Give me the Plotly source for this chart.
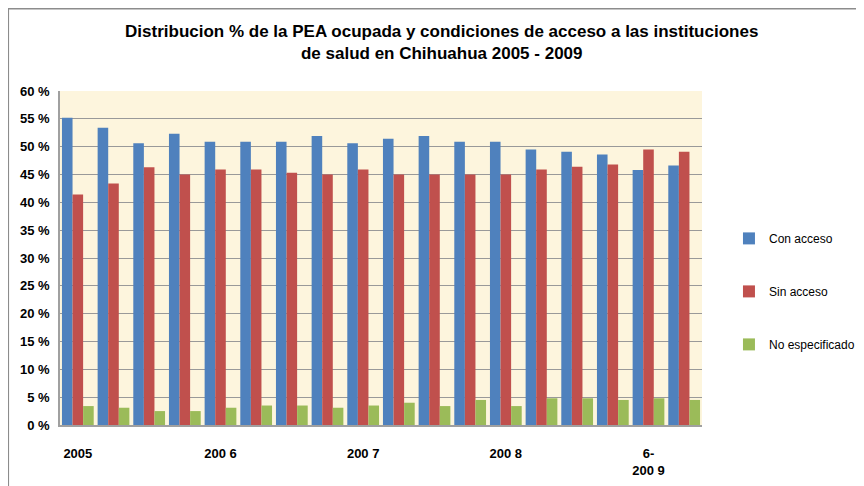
import plotly.graph_objects as go

periods = [
    "2005-1", "2005-2", "2005-3", "2005-4",
    "2006-1", "2006-2", "2006-3", "2006-4",
    "2007-1", "2007-2", "2007-3", "2007-4",
    "2008-1", "2008-2", "2008-3", "2008-4",
    "2009-1", "2009-2",
]
tick_periods = ["2005-1", "2006-1", "2007-1", "2008-1", "2009-1"]
tick_labels = ["2005", "200 6", "200 7", "200 8", "6-<br>200 9"]

con_acceso = [55.2, 53.4, 50.6, 52.3, 50.9, 50.9, 50.9, 51.9, 50.6, 51.4,
              51.9, 50.9, 50.9, 49.5, 49.1, 48.6, 45.8, 46.6]
sin_acceso = [41.4, 43.4, 46.3, 45.0, 45.9, 45.9, 45.3, 45.0, 45.9, 45.0,
              45.0, 45.0, 45.0, 45.9, 46.4, 46.8, 49.5, 49.1]
no_especificado = [3.4, 3.1, 2.5, 2.5, 3.1, 3.5, 3.5, 3.1, 3.5, 4.0,
                   3.4, 4.5, 3.4, 4.8, 4.8, 4.5, 4.8, 4.5]

series = [
    ("Con acceso", con_acceso, "#4F81BD"),
    ("Sin acceso", sin_acceso, "#C0504D"),
    ("No especificado", no_especificado, "#9BBB59"),
]

fig = go.Figure()
for i, (name, vals, color) in enumerate(series):
    fig.add_trace(go.Bar(
        x=periods, y=vals, name=name, marker_color=color,
        marker_line_width=0, legendgroup=str(i),
    ))

# page has an 8px body margin, so margins are shifted to compensate
fig.update_layout(
    width=864, height=486,
    margin=dict(l=52, r=162, t=83, b=69),
    paper_bgcolor="white",
    plot_bgcolor="#FDF5DD",
    barmode="group",
    bargap=0.11,
    bargroupgap=0,
    font=dict(family="Liberation Sans, Arial", color="black"),
    title=dict(
        text="<b>Distribucion % de la PEA ocupada y condiciones de acceso a las instituciones"
             "<br>de salud en Chihuahua 2005 - 2009</b>",
        x=0.502, xanchor="center", y=0.94, yanchor="top",
        font=dict(size=17),
    ),
    legend=dict(
        x=1.042, y=0.40, xanchor="left", yanchor="middle",
        font=dict(size=12), tracegroupgap=34,
        bgcolor="rgba(0,0,0,0)",
    ),
    shapes=[dict(
        type="rect", xref="paper", yref="paper",
        x0=-0.0805, x1=1.4, y0=-0.5, y1=1.246,
        line=dict(color="#8c8c8c", width=1.5), layer="below",
    )],
)

fig.update_xaxes(
    type="category",
    tickmode="array", tickvals=tick_periods, ticktext=tick_labels,
    tickangle=0,
    tickfont=dict(size=13, weight="bold"),
    ticks="", ticklabelstandoff=16,
    showline=True, linecolor="#a0a0a0", linewidth=1.5,
    showgrid=False,
)
fig.update_yaxes(
    range=[0, 60], dtick=5, ticksuffix=" %",
    tickfont=dict(size=13, weight="bold"),
    ticklabelstandoff=6,
    showgrid=True, gridcolor="#999999", gridwidth=1,
    showline=True, linecolor="#a0a0a0", linewidth=1.5,
    zeroline=False, ticks="",
)

fig.write_html("out.html")
